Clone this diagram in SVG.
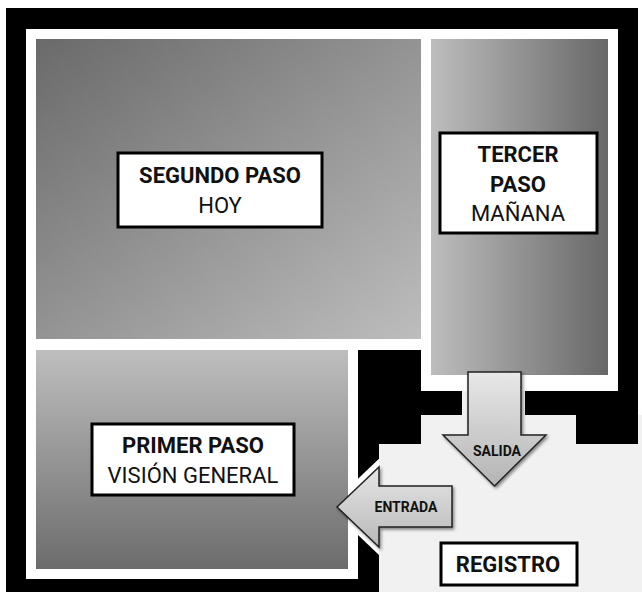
<svg xmlns="http://www.w3.org/2000/svg" width="642" height="592" viewBox="0 0 642 592">
  <style>
    .box { fill: #ffffff; stroke: #000000; stroke-width: 3; }
    .b { font-family: Roboto, "Liberation Sans", sans-serif; font-weight: bold; font-size: 22px; fill: #111; text-anchor: middle; }
    .r { font-family: Roboto, "Liberation Sans", sans-serif; font-weight: normal; font-size: 22px; fill: #111; text-anchor: middle; }
    .al { font-family: Roboto, "Liberation Sans", sans-serif; font-weight: bold; font-size: 14px; fill: #111; text-anchor: middle; }
    .arrow { stroke: #222222; stroke-width: 1.5; stroke-linejoin: miter; }
    .blk { fill: #000000; }
  </style>
  <defs>
    <linearGradient id="gSeg" x1="0" y1="0" x2="1" y2="1">
      <stop offset="0" stop-color="#6a6a6a"/>
      <stop offset="1" stop-color="#bdbdbd"/>
    </linearGradient>
    <linearGradient id="gTer" x1="0" y1="0" x2="1" y2="0">
      <stop offset="0" stop-color="#bdbdbd"/>
      <stop offset="1" stop-color="#686868"/>
    </linearGradient>
    <linearGradient id="gPri" x1="0" y1="0" x2="0" y2="1">
      <stop offset="0" stop-color="#bebebe"/>
      <stop offset="1" stop-color="#6c6c6c"/>
    </linearGradient>
    <linearGradient id="gArrV" x1="0" y1="0" x2="0" y2="1">
      <stop offset="0" stop-color="#e8e8e8"/>
      <stop offset="1" stop-color="#b4b4b4"/>
    </linearGradient>
    <linearGradient id="gArrH" x1="0" y1="0" x2="0" y2="1">
      <stop offset="0" stop-color="#e6e6e6"/>
      <stop offset="1" stop-color="#b8b8b8"/>
    </linearGradient>
    <filter id="shadow" x="-20%" y="-20%" width="140%" height="140%">
      <feDropShadow dx="1.5" dy="2" stdDeviation="1.5" flood-color="#000" flood-opacity="0.45"/>
    </filter>
  </defs>

  <!-- frame -->
  <rect x="0" y="0" width="642" height="592" fill="#ffffff"/>
  <rect class="blk" x="6" y="8" width="632" height="584"/>
  <rect x="26" y="29" width="592" height="550" fill="#ffffff"/>

  <!-- registro area -->
  <rect x="379" y="415" width="263" height="177" fill="#f1f1f1"/>
  <rect x="462" y="391" width="63" height="24" fill="#f1f1f1"/>

  <!-- inner black walls -->
  <rect class="blk" x="358" y="350" width="63" height="94"/>
  <rect class="blk" x="358" y="391" width="104" height="24"/>
  <polygon class="blk" points="358,444 379,444 379,458.7 358,478.7"/>
  <rect class="blk" x="525" y="391" width="113" height="24"/>
  <rect class="blk" x="576" y="391" width="62" height="53"/>
  <polygon class="blk" points="358,535 379,555 379,592 358,592"/>

  <g id="segundo-paso">
    <rect x="36" y="39" width="385" height="300" fill="url(#gSeg)"/>
    <rect class="box" x="118" y="153" width="204" height="74"/>
    <text class="b" x="220" y="183">SEGUNDO PASO</text>
    <text class="r" x="220" y="213">HOY</text>
  </g>

  <g id="tercer-paso">
    <rect x="431" y="39" width="177" height="336" fill="url(#gTer)"/>
    <rect class="box" x="440" y="133" width="157" height="100"/>
    <text class="b" x="518" y="162">TERCER</text>
    <text class="b" x="518" y="192">PASO</text>
    <text class="r" x="518" y="221">MAÑANA</text>
  </g>

  <g id="primer-paso">
    <rect x="36" y="350" width="312" height="219" fill="url(#gPri)"/>
    <rect class="box" x="92" y="424" width="202" height="71"/>
    <text class="b" x="193" y="453">PRIMER PASO</text>
    <text class="r" x="193" y="483">VISIÓN GENERAL</text>
  </g>

  <g id="registro">
    <rect class="box" x="441" y="543" width="136" height="42"/>
    <text class="b" x="508" y="572">REGISTRO</text>
  </g>

  <g id="connectors">
    <g id="salida">
      <polygon class="arrow" fill="url(#gArrV)" filter="url(#shadow)" points="468,372 521,372 521,435 546,435 494.5,486 443,435 468,435"/>
      <text class="al" x="497" y="456">SALIDA</text>
    </g>
    <g id="entrada">
      <polygon class="arrow" fill="url(#gArrH)" filter="url(#shadow)" points="452,486 452,527 379,527 379,547 337,507 379,467 379,486"/>
      <text class="al" x="406" y="512">ENTRADA</text>
    </g>
  </g>
</svg>
